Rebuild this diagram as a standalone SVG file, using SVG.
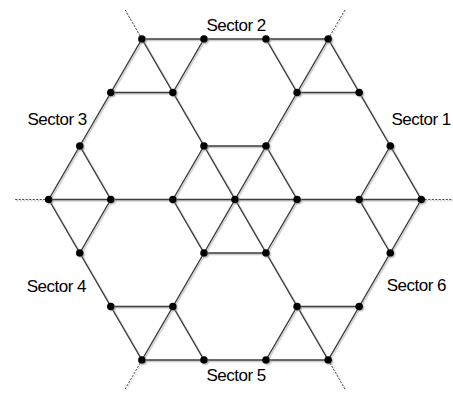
<svg xmlns="http://www.w3.org/2000/svg" width="453" height="394" viewBox="0 0 453 394">
<defs>
<style>
.e{stroke:#3a3a3a;stroke-width:1.4;fill:none;stroke-linecap:round}
.d{stroke:#444;stroke-width:1;stroke-dasharray:2 1.5;fill:none}
.n{fill:#000}
.lbl{font-family:"Liberation Sans",Arial,sans-serif;font-size:17px;letter-spacing:-0.5px;fill:#000}
</style>
<filter id="sh" x="-5%" y="-5%" width="110%" height="110%">
<feDropShadow dx="1.3" dy="1.3" stdDeviation="0.5" flood-color="#888" flood-opacity="0.55"/>
</filter>
</defs>
<rect width="453" height="394" fill="#fff"/>
<g id="connectors" filter="url(#sh)">
<line class="e" x1="141.9" y1="39" x2="328.2" y2="39"/>
<line class="e" x1="110.8" y1="92.5" x2="172.9" y2="92.5"/>
<line class="e" x1="297.1" y1="92.5" x2="359.2" y2="92.5"/>
<line class="e" x1="204" y1="146" x2="266" y2="146"/>
<line class="e" x1="48.7" y1="199.5" x2="421.3" y2="199.5"/>
<line class="e" x1="204" y1="253" x2="266" y2="253"/>
<line class="e" x1="110.8" y1="306.5" x2="172.9" y2="306.5"/>
<line class="e" x1="297.1" y1="306.5" x2="359.2" y2="306.5"/>
<line class="e" x1="141.9" y1="360" x2="328.2" y2="360"/>
<line class="e" x1="141.9" y1="39" x2="328.2" y2="360"/>
<line class="e" x1="328.2" y1="39" x2="421.3" y2="199.5"/>
<line class="e" x1="48.7" y1="199.5" x2="141.9" y2="360"/>
<line class="e" x1="266" y1="39" x2="297.1" y2="92.5"/>
<line class="e" x1="266" y1="146" x2="297.1" y2="199.5"/>
<line class="e" x1="79.8" y1="146" x2="110.8" y2="199.5"/>
<line class="e" x1="172.9" y1="199.5" x2="204" y2="253"/>
<line class="e" x1="359.2" y1="199.5" x2="390.3" y2="253"/>
<line class="e" x1="172.9" y1="306.5" x2="204" y2="360"/>
<line class="e" x1="328.2" y1="39" x2="141.9" y2="360"/>
<line class="e" x1="141.9" y1="39" x2="48.7" y2="199.5"/>
<line class="e" x1="421.3" y1="199.5" x2="328.2" y2="360"/>
<line class="e" x1="204" y1="39" x2="172.9" y2="92.5"/>
<line class="e" x1="204" y1="146" x2="172.9" y2="199.5"/>
<line class="e" x1="390.3" y1="146" x2="359.2" y2="199.5"/>
<line class="e" x1="297.1" y1="199.5" x2="266" y2="253"/>
<line class="e" x1="110.8" y1="199.5" x2="79.8" y2="253"/>
<line class="e" x1="297.1" y1="306.5" x2="266" y2="360"/>
<line class="d" x1="141.9" y1="39" x2="124.4" y2="8.7"/>
<line class="d" x1="328.2" y1="39" x2="345.7" y2="8.7"/>
<line class="d" x1="48.7" y1="199.5" x2="14" y2="199.5"/>
<line class="d" x1="421.3" y1="199.5" x2="453" y2="199.5"/>
<line class="d" x1="141.9" y1="360" x2="124.4" y2="390.3"/>
<line class="d" x1="328.2" y1="360" x2="345.7" y2="390.3"/>
</g>
<g id="nodes" filter="url(#sh)">
<g id="n1"><circle class="n" cx="141.9" cy="39" r="3.8"/></g>
<g id="n2"><circle class="n" cx="204" cy="39" r="3.8"/></g>
<g id="n3"><circle class="n" cx="266" cy="39" r="3.8"/></g>
<g id="n4"><circle class="n" cx="328.2" cy="39" r="3.8"/></g>
<g id="n5"><circle class="n" cx="110.8" cy="92.5" r="3.8"/></g>
<g id="n6"><circle class="n" cx="172.9" cy="92.5" r="3.8"/></g>
<g id="n7"><circle class="n" cx="297.1" cy="92.5" r="3.8"/></g>
<g id="n8"><circle class="n" cx="359.2" cy="92.5" r="3.8"/></g>
<g id="n9"><circle class="n" cx="79.8" cy="146" r="3.8"/></g>
<g id="n10"><circle class="n" cx="204" cy="146" r="3.8"/></g>
<g id="n11"><circle class="n" cx="266" cy="146" r="3.8"/></g>
<g id="n12"><circle class="n" cx="390.3" cy="146" r="3.8"/></g>
<g id="n13"><circle class="n" cx="48.7" cy="199.5" r="3.8"/></g>
<g id="n14"><circle class="n" cx="110.8" cy="199.5" r="3.8"/></g>
<g id="n15"><circle class="n" cx="172.9" cy="199.5" r="3.8"/></g>
<g id="n16"><circle class="n" cx="235" cy="199.5" r="3.8"/></g>
<g id="n17"><circle class="n" cx="297.1" cy="199.5" r="3.8"/></g>
<g id="n18"><circle class="n" cx="359.2" cy="199.5" r="3.8"/></g>
<g id="n19"><circle class="n" cx="421.3" cy="199.5" r="3.8"/></g>
<g id="n20"><circle class="n" cx="79.8" cy="253" r="3.8"/></g>
<g id="n21"><circle class="n" cx="204" cy="253" r="3.8"/></g>
<g id="n22"><circle class="n" cx="266" cy="253" r="3.8"/></g>
<g id="n23"><circle class="n" cx="390.3" cy="253" r="3.8"/></g>
<g id="n24"><circle class="n" cx="110.8" cy="306.5" r="3.8"/></g>
<g id="n25"><circle class="n" cx="172.9" cy="306.5" r="3.8"/></g>
<g id="n26"><circle class="n" cx="297.1" cy="306.5" r="3.8"/></g>
<g id="n27"><circle class="n" cx="359.2" cy="306.5" r="3.8"/></g>
<g id="n28"><circle class="n" cx="141.9" cy="360" r="3.8"/></g>
<g id="n29"><circle class="n" cx="204" cy="360" r="3.8"/></g>
<g id="n30"><circle class="n" cx="266" cy="360" r="3.8"/></g>
<g id="n31"><circle class="n" cx="328.2" cy="360" r="3.8"/></g>
</g>
<g id="labels">
<text class="lbl" x="206.5" y="31">Sector 2</text>
<text class="lbl" x="27.5" y="124.7">Sector 3</text>
<text class="lbl" x="391.5" y="125">Sector 1</text>
<text class="lbl" x="26.7" y="291.5">Sector 4</text>
<text class="lbl" x="386.7" y="291">Sector 6</text>
<text class="lbl" x="206.5" y="380.7">Sector 5</text>
</g>
</svg>
